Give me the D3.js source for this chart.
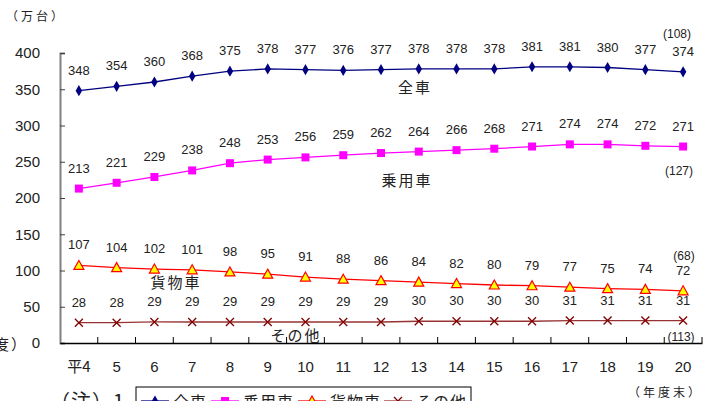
<!DOCTYPE html>
<html>
<head>
<meta charset="utf-8">
<script src="https://cdn.jsdelivr.net/npm/d3@7/dist/d3.min.js"></script>
<style>
  body { margin: 0; background: #fff; }
  text { font-family: "Liberation Sans", Arial, "Noto Sans CJK JP", sans-serif; fill: #222; }
  .jp { font-family: "Noto Sans CJK JP", sans-serif; letter-spacing: 2px; }
</style>
</head>
<body>
<script>
//categories (fiscal year end)
var years = ["平4", "5", "6", "7", "8", "9", "10", "11", "12", "13", "14", "15", "16", "17", "18", "19", "20"];
//series values (10,000 vehicles)
var allCars = [348, 354, 360, 368, 375, 378, 377, 376, 377, 378, 378, 378, 381, 381, 380, 377, 374];
var passenger = [213, 221, 229, 238, 248, 253, 256, 259, 262, 264, 266, 268, 271, 274, 274, 272, 271];
var cargo = [107, 104, 102, 101, 98, 95, 91, 88, 86, 84, 82, 80, 79, 77, 75, 74, 72];
var other = [28, 28, 29, 29, 29, 29, 29, 29, 29, 30, 30, 30, 30, 31, 31, 31, 31];
var seriesNames = ["全車", "乗用車", "貨物車", "その他"];
//notes at the right end
var endNotes = ["(108)", "(127)", "(68)", "(113)"];
var yTicks = [0, 50, 100, 150, 200, 250, 300, 350, 400];

var width = 713, height = 401;
var svg = d3.select("body").append("svg")
  .attr("width", width).attr("height", height);

var x = d3.scaleBand().domain(years).range([60, 702]);
var y = d3.scaleLinear().domain([0, 400]).range([343, 53]);
function cx(i) { return x(years[i]) + x.bandwidth() / 2; }

var series = [
  {name: seriesNames[0], values: allCars, line: "#000080", marker: "diamond", lx: 415, ly: 93},
  {name: seriesNames[1], values: passenger, line: "#ff00ff", marker: "square", lx: 407, ly: 186},
  {name: seriesNames[2], values: cargo, line: "#ff0000", marker: "triangle", lx: 176, ly: 288},
  {name: seriesNames[3], values: other, line: "#993333", marker: "cross", lx: 296, ly: 341}
];

//y axis
var yAxis = d3.axisLeft(y).tickValues(yTicks).tickSize(-5).tickPadding(20);
var gy = svg.append("g").attr("transform", "translate(60,0)").call(yAxis);
gy.select(".domain").attr("stroke", "#808080").attr("stroke-width", 2);
gy.selectAll(".tick line").attr("stroke", "#404040");
gy.selectAll(".tick text").style("font-size", "15px").attr("x", -20);

//x axis with ticks between categories
var xAxis = d3.axisBottom(x).tickSize(0).tickPadding(18);
var gx = svg.append("g").attr("transform", "translate(0,343)").call(xAxis);
gx.select(".domain").attr("stroke", "#000").attr("stroke-width", 1.5);
gx.selectAll(".tick text").style("font-size", "15px");
gx.selectAll(".tick text").filter(function(d) { return d == "平4"; })
  .style("font-family", "'Noto Sans CJK JP', sans-serif");
svg.append("g").selectAll("line")
  .data(years.slice(1).concat(["end"]))
  .enter().append("line")
  .attr("x1", function(d) { return d == "end" ? 702 : x(d); })
  .attr("x2", function(d) { return d == "end" ? 702 : x(d); })
  .attr("y1", 343).attr("y2", 337)
  .attr("stroke", "#000");

var line = d3.line()
  .x(function(d, i) { return cx(i); })
  .y(function(d) { return y(d); });

function drawMarker(g, type, color, px, py) {
  if (type == "diamond") {
    g.append("path").attr("d", d3.symbol(d3.symbolDiamond, 36)())
      .attr("transform", "translate(" + px + "," + py + ")").attr("fill", color);
  } else if (type == "square") {
    g.append("rect").attr("x", px - 4).attr("y", py - 4).attr("width", 8).attr("height", 8).attr("fill", color);
  } else if (type == "triangle") {
    g.append("path").attr("d", "M" + px + "," + (py - 5) + "L" + (px + 5) + "," + (py + 4) + "L" + (px - 5) + "," + (py + 4) + "Z")
      .attr("fill", "#ffff00").attr("stroke", "#ff0000").attr("stroke-width", 1.2);
  } else {
    g.append("path").attr("d", "M" + (px - 4) + "," + (py - 4) + "L" + (px + 4) + "," + (py + 4) + "M" + (px + 4) + "," + (py - 4) + "L" + (px - 4) + "," + (py + 4))
      .attr("stroke", "#800000").attr("stroke-width", 1.3);
  }
}

series.forEach(function(s) {
  var g = svg.append("g");
  g.append("path").datum(s.values).attr("d", line)
    .attr("fill", "none").attr("stroke", s.line).attr("stroke-width", 1.3);
  s.values.forEach(function(v, i) {
    drawMarker(g, s.marker, s.line, cx(i), y(v));
    g.append("text").attr("x", cx(i)).attr("y", y(v) - 16)
      .attr("text-anchor", "middle").style("font-size", "13px").text(v);
  });
  g.append("text").attr("class", "jp").attr("x", s.lx).attr("y", s.ly)
    .attr("text-anchor", "middle").style("font-size", "15px").text(s.name);
});

//notes
var notePos = [[677, 38], [679, 175], [684, 260], [681, 341]];
endNotes.forEach(function(t, i) {
  svg.append("text").attr("x", notePos[i][0]).attr("y", notePos[i][1])
    .attr("text-anchor", "middle").style("font-size", "12px").text(t);
});

svg.append("text").attr("class", "jp").attr("x", 6).attr("y", 21).style("font-size", "12px")
  .style("letter-spacing", "3px").text("（万台）");
svg.append("text").attr("class", "jp").attr("x", -6).attr("y", 350).style("font-size", "15px").text("度）");
svg.append("text").attr("class", "jp").attr("x", 628).attr("y", 397).style("font-size", "12px")
  .style("letter-spacing", "3px").text("（年度末）");
svg.append("text").attr("class", "jp").attr("x", 50).attr("y", 409).style("font-size", "20px")
  .style("letter-spacing", "1px").text("（注）1");

//legend
var lg = svg.append("g");
lg.append("rect").attr("x", 136).attr("y", 387).attr("width", 335).attr("height", 30)
  .attr("fill", "#fff").attr("stroke", "#000");
var legX = [141, 211, 298, 384];
series.forEach(function(s, i) {
  lg.append("line").attr("x1", legX[i]).attr("x2", legX[i] + 28).attr("y1", 401).attr("y2", 401)
    .attr("stroke", s.line).attr("stroke-width", 1.3);
  drawMarker(lg, s.marker, s.line, legX[i] + 14, 401);
  lg.append("text").attr("class", "jp").attr("x", legX[i] + 32).attr("y", 408)
    .style("letter-spacing", "1px").style("font-size", "16px").text(s.name);
});
</script>
</body>
</html>
